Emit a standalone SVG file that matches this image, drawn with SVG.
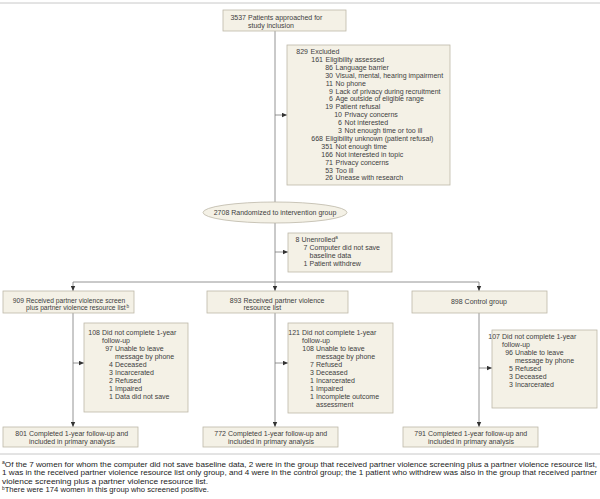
<svg xmlns="http://www.w3.org/2000/svg" width="600" height="499" viewBox="0 0 600 499">
<style>
.bg{fill:#ffffff}
.box{fill:#f4f1e6;stroke:#bdb8a8;stroke-width:0.8}
.rule{stroke:#c8c8c8;stroke-width:1}
.ln{fill:none;stroke:#7a7a7a;stroke-width:0.8}
.t{font-family:"Liberation Sans",Arial,sans-serif;font-size:7px;fill:#404040}
.s{font-size:6.7px}
.n{text-anchor:end}
.c{text-anchor:middle}
.fn{font-family:"Liberation Sans",Arial,sans-serif;font-size:7.4px;fill:#222}
.sup{font-size:4.6px}
</style>
<defs>
<marker id="ah" markerUnits="userSpaceOnUse" markerWidth="5" markerHeight="5" refX="5" refY="2.5" orient="auto">
<path d="M0,0.3 L5,2.5 L0,4.7 z" fill="#333"/>
</marker>
</defs>
<rect class="bg" x="0" y="0" width="600" height="499"/>
<line class="rule" x1="0" y1="3" x2="600" y2="3"/>
<line class="rule" x1="0" y1="454" x2="600" y2="454"/>

<g id="connectors">
<path class="ln" d="M275,31 V202"/>
<path class="ln" d="M275,115 H287" marker-end="url(#ah)"/>
<path class="ln" d="M275,223 V282"/>
<path class="ln" d="M275,252 H288" marker-end="url(#ah)"/>
<path class="ln" d="M73,282 H479"/>
<path class="ln" d="M73,282 V291" marker-end="url(#ah)"/>
<path class="ln" d="M275,282 V291" marker-end="url(#ah)"/>
<path class="ln" d="M479,282 V291" marker-end="url(#ah)"/>
<path class="ln" d="M73,313 V427" marker-end="url(#ah)"/>
<path class="ln" d="M73,363 H84" marker-end="url(#ah)"/>
<path class="ln" d="M275,313 V427" marker-end="url(#ah)"/>
<path class="ln" d="M275,363 H288" marker-end="url(#ah)"/>
<path class="ln" d="M479,313 V427" marker-end="url(#ah)"/>
<path class="ln" d="M479,368 H492" marker-end="url(#ah)"/>
</g>

<g id="approached">
<rect class="box" x="223" y="10" width="123" height="21"/>
<text class="t n" x="246" y="19.5">3537</text>
<text class="t" x="248" y="19.5">Patients approached for</text>
<text class="t" x="248" y="27.5">study inclusion</text>
</g>

<g id="excluded">
<rect class="box" x="287" y="45" width="163" height="140"/>
<text class="t n" x="308" y="54">829</text><text class="t" x="310.5" y="54">Excluded</text>
<text class="t n" x="323" y="61.9">161</text><text class="t" x="325.5" y="61.9">Eligibility assessed</text>
<text class="t n" x="333" y="69.8">86</text><text class="t" x="335.5" y="69.8">Language barrier</text>
<text class="t n" x="333" y="77.7">30</text><text class="t" x="335.5" y="77.7">Visual, mental, hearing impairment</text>
<text class="t n" x="333" y="85.6">11</text><text class="t" x="335.5" y="85.6">No phone</text>
<text class="t n" x="333" y="93.5">9</text><text class="t" x="335.5" y="93.5">Lack of privacy during recruitment</text>
<text class="t n" x="333" y="101.4">6</text><text class="t" x="335.5" y="101.4">Age outside of eligible range</text>
<text class="t n" x="333" y="109.3">19</text><text class="t" x="335.5" y="109.3">Patient refusal</text>
<text class="t n" x="342" y="117.2">10</text><text class="t" x="344.5" y="117.2">Privacy concerns</text>
<text class="t n" x="342" y="125.1">6</text><text class="t" x="344.5" y="125.1">Not interested</text>
<text class="t n" x="342" y="133">3</text><text class="t" x="344.5" y="133">Not enough time or too ill</text>
<text class="t n" x="323" y="140.9">668</text><text class="t" x="325.5" y="140.9">Eligibility unknown (patient refusal)</text>
<text class="t n" x="333" y="148.8">351</text><text class="t" x="335.5" y="148.8">Not enough time</text>
<text class="t n" x="333" y="156.7">166</text><text class="t" x="335.5" y="156.7">Not interested in topic</text>
<text class="t n" x="333" y="164.6">71</text><text class="t" x="335.5" y="164.6">Privacy concerns</text>
<text class="t n" x="333" y="172.5">53</text><text class="t" x="335.5" y="172.5">Too ill</text>
<text class="t n" x="333" y="180.4">26</text><text class="t" x="335.5" y="180.4">Unease with research</text>
</g>

<g id="randomized">
<ellipse class="box" cx="275" cy="212.5" rx="72" ry="10.5"/>
<text class="t c" x="275" y="215">2708 Randomized to intervention group</text>
</g>

<g id="unenrolled">
<rect class="box" x="288" y="233" width="104" height="39"/>
<text class="t n" x="299.5" y="241.5">8</text><text class="t" x="301.5" y="241.5">Unenrolled<tspan class="sup" dy="-2.5">a</tspan></text>
<text class="t n" x="307.5" y="249.6">7</text><text class="t" x="309.5" y="249.6">Computer did not save</text>
<text class="t" x="309.5" y="257.7">baseline data</text>
<text class="t n" x="307.5" y="265.8">1</text><text class="t" x="309.5" y="265.8">Patient withdrew</text>
</g>

<g id="groupA">
<rect class="box" x="3" y="291" width="131" height="22"/>
<text class="t s n" x="24" y="302.5">909</text><text class="t s" x="26" y="302.5">Received partner violence screen</text>
<text class="t s" x="26" y="310">plus partner violence resource list<tspan class="sup" dx="0.8" dy="-2.5">b</tspan></text>
</g>

<g id="groupB">
<rect class="box" x="207" y="291" width="141" height="22"/>
<text class="t n" x="241.5" y="302.5">893</text><text class="t" x="243.5" y="302.5">Received partner violence</text>
<text class="t" x="243.5" y="310">resource list</text>
</g>

<g id="groupC">
<rect class="box" x="412" y="291" width="135" height="22"/>
<text class="t c" x="479" y="304">898 Control group</text>
</g>

<g id="lossA">
<rect class="box" x="84" y="323" width="104" height="89"/>
<text class="t n" x="100" y="334.5">108</text><text class="t" x="102" y="334.5">Did not complete 1-year</text>
<text class="t" x="102" y="342.6">follow-up</text>
<text class="t n" x="113" y="350.7">97</text><text class="t" x="115" y="350.7">Unable to leave</text>
<text class="t" x="115" y="358.8">message by phone</text>
<text class="t n" x="113" y="366.9">4</text><text class="t" x="115" y="366.9">Deceased</text>
<text class="t n" x="113" y="375">3</text><text class="t" x="115" y="375">Incarcerated</text>
<text class="t n" x="113" y="383.1">2</text><text class="t" x="115" y="383.1">Refused</text>
<text class="t n" x="113" y="391.2">1</text><text class="t" x="115" y="391.2">Impaired</text>
<text class="t n" x="113" y="399.3">1</text><text class="t" x="115" y="399.3">Data did not save</text>
</g>

<g id="lossB">
<rect class="box" x="288" y="323" width="105" height="90"/>
<text class="t n" x="300" y="334.5">121</text><text class="t" x="302" y="334.5">Did not complete 1-year</text>
<text class="t" x="302" y="342.6">follow-up</text>
<text class="t n" x="314" y="350.7">108</text><text class="t" x="316" y="350.7">Unable to leave</text>
<text class="t" x="316" y="358.8">message by phone</text>
<text class="t n" x="314" y="366.9">7</text><text class="t" x="316" y="366.9">Refused</text>
<text class="t n" x="314" y="375">3</text><text class="t" x="316" y="375">Deceased</text>
<text class="t n" x="314" y="383.1">1</text><text class="t" x="316" y="383.1">Incarcerated</text>
<text class="t n" x="314" y="391.2">1</text><text class="t" x="316" y="391.2">Impaired</text>
<text class="t n" x="314" y="399.3">1</text><text class="t" x="316" y="399.3">Incomplete outcome</text>
<text class="t" x="316" y="407.4">assessment</text>
</g>

<g id="lossC">
<rect class="box" x="492" y="330" width="105" height="78"/>
<text class="t n" x="500" y="338.5">107</text><text class="t" x="502" y="338.5">Did not complete 1-year</text>
<text class="t" x="502" y="346.6">follow-up</text>
<text class="t n" x="513" y="354.7">96</text><text class="t" x="515" y="354.7">Unable to leave</text>
<text class="t" x="515" y="362.8">message by phone</text>
<text class="t n" x="513" y="370.9">5</text><text class="t" x="515" y="370.9">Refused</text>
<text class="t n" x="513" y="379">3</text><text class="t" x="515" y="379">Deceased</text>
<text class="t n" x="513" y="387.1">3</text><text class="t" x="515" y="387.1">Incarcerated</text>
</g>

<g id="finalA">
<rect class="box" x="3" y="427" width="135" height="20"/>
<text class="t n" x="27" y="435.5">801</text><text class="t" x="29" y="435.5">Completed 1-year follow-up and</text>
<text class="t" x="29" y="443.5">included in primary analysis</text>
</g>

<g id="finalB">
<rect class="box" x="203" y="427" width="135" height="20"/>
<text class="t n" x="226" y="435.5">772</text><text class="t" x="228" y="435.5">Completed 1-year follow-up and</text>
<text class="t" x="228" y="443.5">included in primary analysis</text>
</g>

<g id="finalC">
<rect class="box" x="403" y="427" width="135" height="20"/>
<text class="t n" x="426" y="435.5">791</text><text class="t" x="428" y="435.5">Completed 1-year follow-up and</text>
<text class="t" x="428" y="443.5">included in primary analysis</text>
</g>

<g id="footnotes">
<text class="fn" x="2" y="466.5" textLength="595" lengthAdjust="spacingAndGlyphs"><tspan class="sup" dy="-2.5">a</tspan><tspan dy="2.5">Of the 7 women for whom the computer did not save baseline data, 2 were in the group that received partner violence screening plus a partner violence resource list,</tspan></text>
<text class="fn" x="2" y="475" textLength="595" lengthAdjust="spacingAndGlyphs">1 was in the received partner violence resource list only group, and 4 were in the control group; the 1 patient who withdrew was also in the group that received partner</text>
<text class="fn" x="2" y="483.5" textLength="206" lengthAdjust="spacingAndGlyphs">violence screening plus a partner violence resource list.</text>
<text class="fn" x="2" y="492" textLength="207" lengthAdjust="spacingAndGlyphs"><tspan class="sup" dy="-2.5">b</tspan><tspan dy="2.5">There were 174 women in this group who screened positive.</tspan></text>
</g>
</svg>
